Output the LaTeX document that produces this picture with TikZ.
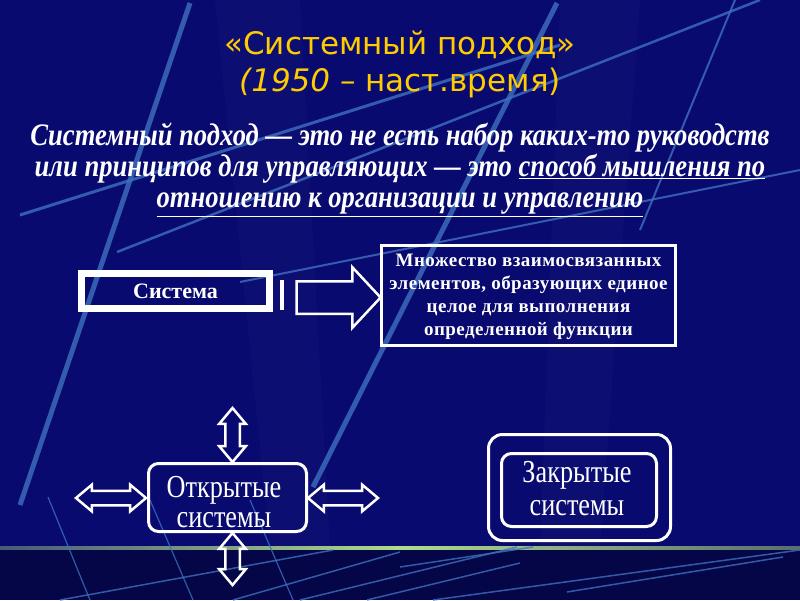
\documentclass[tikz,border=0pt]{standalone}
\usepackage{fontspec}
\setmainfont{Liberation Serif}
\newfontfamily\titlefont{DejaVu Sans}
\newfontfamily\bodyfont[FakeStretch=0.85]{Liberation Serif}
\newfontfamily\boxfont[FakeStretch=0.82]{Liberation Serif}
\newfontfamily\deffont[LetterSpace=2.5]{Liberation Serif}
\usetikzlibrary{shapes.arrows}
\definecolor{bgblue}{RGB}{9,10,112}
\definecolor{bgdark}{RGB}{4,6,72}
\definecolor{ttl}{RGB}{255,204,0}
\definecolor{streak}{RGB}{62,112,190}
\tikzset{
  streakline/.style={draw=streak, line width=#1, opacity=0.8},
  framebox/.style={draw=white, line width=3pt, inner sep=0pt},
  roundbox/.style={framebox, rounded corners=10pt},
  dblarrow/.style={shape=double arrow, draw=white, line width=2.5pt, inner sep=6pt,
     double arrow head extend=6pt, double arrow tip angle=80, minimum height=#1},
  rarrow/.style={shape=single arrow, draw=white, line width=2.5pt, inner sep=15pt,
     single arrow head extend=14pt, single arrow tip angle=94, minimum height=#1},
}
\begin{document}
\begin{tikzpicture}[x=1pt,y=-1pt]
\useasboundingbox (0,0) rectangle (800,600);
% background
\fill[bgblue] (0,0) rectangle (800,548);
\fill[bgdark] (0,548) rectangle (800,600);
\fill[white,opacity=0.02] (215,0) -- (300,0) -- (330,548) -- (270,548) -- cycle;
\fill[white,opacity=0.02] (560,0) -- (640,0) -- (600,548) -- (540,548) -- cycle;
\shade[left color={rgb,255:red,70;green,90;blue,120}, right color={rgb,255:red,90;green,110;blue,110}, middle color={rgb,255:red,175;green,220;blue,140}] (0,546) rectangle (800,549);
% streaks
\draw[streakline=5pt] (190,3) -- (20,505);
\draw[streakline=5pt] (557,3) -- (313,487);
\draw[streakline=2pt] (735,0) -- (640,230);
\draw[streakline=3pt] (20,215) -- (560,45);
\draw[streakline=2.5pt] (117,252) -- (760,0);
\draw[streakline=2pt] (240,282) -- (800,170);
\draw[streakline=1.2pt] (48,497) -- (90,600);
\draw[streakline=1.2pt] (150,500) -- (193,600);
\draw[streakline=1.2pt] (250,500) -- (293,600);
\draw[streakline=1.5pt] (60,600) -- (333,550);
\draw[streakline=1.5pt] (233,600) -- (400,552);
\draw[streakline=1.5pt] (300,600) -- (517,547);
\draw[streakline=1.5pt] (367,600) -- (520,563);
\draw[streakline=1.5pt] (400,567) -- (533,547);
\draw[streakline=1.5pt] (433,600) -- (800,550);
\draw[streakline=1.5pt] (567,592) -- (783,557);
% title
\node[text=ttl, font=\titlefont\fontsize{31}{37}\selectfont, align=center] (title) at (400,64)
  {«Системный подход»\\\textit{(1950} – наст.время)};
% body text
\node[text=white, font=\bodyfont\bfseries\itshape\fontsize{31.3}{31}\selectfont, align=center] (body) at (400,170)
  {Системный подход — это не есть набор каких-то руководств\\
   или принципов для управляющих — это \underline{способ мышления по}\\
   \underline{отношению к организации и управлению}};
% Система
\node[draw=white, line width=7pt, minimum width=188pt, minimum height=35pt, inner sep=0pt,
      text=white, font=\bfseries\fontsize{22}{24}\selectfont] (sys) at (175.5,291) {\raisebox{-3pt}{Система}};
\node[fill=white, minimum width=4pt, minimum height=30pt, inner sep=0pt] (stripe) at (282,295) {};
\node[rarrow=84pt] (arr) at (331,297.5) {};
% definition
\node[framebox, minimum width=294pt, minimum height=100pt] (def) at (528.5,295) {};
\node[text=white, font=\deffont\bfseries\fontsize{19}{23}\selectfont, align=center] (deftext) at (528.5,297)
  {Множество взаимосвязанных\\элементов, образующих единое\\целое для выполнения\\определенной функции};
% open systems
\node[roundbox, minimum width=158pt, minimum height=68pt, inner sep=0pt] (open) at (227.5,497.5) {};
\node[text=white, font=\boxfont\fontsize{32}{30}\selectfont, align=center] (opentext) at (224,502)
  {Открытые\\системы};
\node[dblarrow=54pt, rotate=90] (up) at (232.5,435) {};
\node[dblarrow=52pt, rotate=90] (down) at (232.5,559) {};
\node[dblarrow=70pt] (left) at (111,498) {};
\node[dblarrow=70pt] (right) at (343,498) {};
% closed systems
\node[roundbox, rounded corners=14pt, minimum width=182pt, minimum height=106pt] (closedout) at (579.5,487.5) {};
\node[roundbox, minimum width=155pt, minimum height=73pt] (closed) at (579,490) {};
\node[text=white, font=\boxfont\fontsize{32}{33}\selectfont, align=center] (closedtext) at (577,489)
  {Закрытые\\системы};
\end{tikzpicture}
\end{document}
